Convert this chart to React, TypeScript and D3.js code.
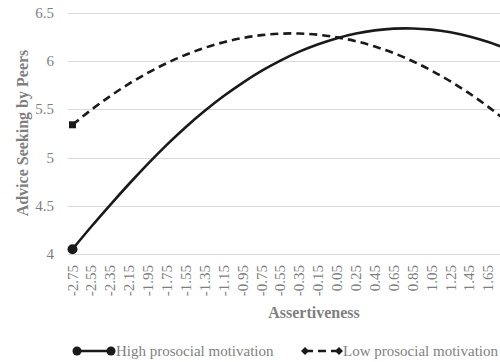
import React from "react";
import * as d3 from "d3";

// Assertiveness levels (category axis)
const categories = [
  "-2.75", "-2.55", "-2.35", "-2.15", "-1.95", "-1.75", "-1.55", "-1.35",
  "-1.15", "-0.95", "-0.75", "-0.55", "-0.35", "-0.15", "0.05", "0.25",
  "0.45", "0.65", "0.85", "1.05", "1.25", "1.45", "1.65", "1.85",
];

// Predicted advice seeking by peers
const highProsocial = [
  4.05, 4.285, 4.51, 4.728, 4.937, 5.134, 5.317, 5.484, 5.637, 5.774, 5.897,
  6.004, 6.097, 6.174, 6.237, 6.285, 6.317, 6.335, 6.337, 6.325, 6.297, 6.255,
  6.197, 6.125,
];
const lowProsocial = [
  5.339, 5.495, 5.637, 5.765, 5.879, 5.979, 6.065, 6.137, 6.195, 6.238, 6.268,
  6.283, 6.285, 6.272, 6.245, 6.205, 6.15, 6.081, 5.998, 5.9, 5.789, 5.664,
  5.525, 5.371,
];

const yTicks = [4, 4.5, 5, 5.5, 6, 6.5];
const yTickLabels = ["4", "4.5", "5", "5.5", "6", "6.5"];

const seriesNames = ["High prosocial motivation", "Low prosocial motivation"];

const W = 500;
const H = 362;
const FONT = "'Liberation Serif', 'Times New Roman', serif";
const TEXT = "#7f7f7f";
const GRID = "#d9d9d9";
const INK = "#1a1a1a";

export default function App() {
  const plotLeft = 68;
  const x = d3
    .scalePoint<string>()
    .domain(categories)
    .range([72.5, 72.5 + (categories.length - 1) * 18.9]);
  const y = d3.scaleLinear().domain([4, 6.5]).range([254, 12.75]);

  const line = d3
    .line<number>()
    .x((_, i) => x(categories[i]) as number)
    .y((d) => y(d))
    .curve(d3.curveNatural);

  const diamond = (cx: number, cy: number, s: number) =>
    `M${cx},${cy - s}L${cx + s},${cy}L${cx},${cy + s}L${cx - s},${cy}Z`;

  const legendY = 351;
  // only categories whose label fits inside the drawing area get a label
  const labelled = categories.filter((c) => (x(c) as number) < W - 4);

  return (
    <svg
      width={W}
      height={H}
      style={{ position: "absolute", left: 0, top: 0, background: "#fff" }}
      fontFamily={FONT}
    >
      <rect width={W} height={H} fill="#fff" />
      {/* horizontal gridlines and y tick labels */}
      {yTicks.map((t, i) => (
        <g key={t}>
          <line
            x1={plotLeft}
            x2={W}
            y1={Math.round(y(t)) + 0.5}
            y2={Math.round(y(t)) + 0.5}
            stroke={GRID}
            strokeWidth={1}
          />
          <text
            x={54}
            y={y(t)}
            textAnchor="end"
            dominantBaseline="central"
            fontSize={15}
            fill={TEXT}
          >
            {yTickLabels[i]}
          </text>
        </g>
      ))}

      {/* category labels */}
      {labelled.map((c) => (
        <text
          key={c}
          transform={`translate(${x(c)},265) rotate(-90)`}
          textAnchor="end"
          dominantBaseline="central"
          fontSize={15}
          fill={TEXT}
        >
          {c}
        </text>
      ))}

      {/* series */}
      <path
        d={line(lowProsocial) || ""}
        fill="none"
        stroke={INK}
        strokeWidth={2.6}
        strokeDasharray="8,5"
      />
      <path
        d={line(highProsocial) || ""}
        fill="none"
        stroke={INK}
        strokeWidth={2.6}
      />
      <circle
        cx={x(categories[0])}
        cy={y(highProsocial[0])}
        r={5}
        fill={INK}
      />
      <rect
        x={(x(categories[0]) as number) - 3.5}
        y={y(lowProsocial[0]) - 3.5}
        width={7}
        height={7}
        fill={INK}
      />

      {/* axis titles */}
      <text
        x={314}
        y={318}
        textAnchor="middle"
        fontSize={16}
        fontWeight="bold"
        fill={TEXT}
      >
        Assertiveness
      </text>
      <text
        transform="translate(22,133) rotate(-90)"
        textAnchor="middle"
        dominantBaseline="central"
        fontSize={16}
        fontWeight="bold"
        fill={TEXT}
      >
        Advice Seeking by Peers
      </text>

      {/* legend */}
      <g>
        <line x1={77} x2={111} y1={legendY} y2={legendY} stroke={INK} strokeWidth={2.6} />
        <circle cx={77} cy={legendY} r={4.5} fill={INK} />
        <circle cx={111} cy={legendY} r={4.5} fill={INK} />
        <text x={116} y={legendY} dominantBaseline="central" fontSize={15} fill={TEXT}>
          {seriesNames[0]}
        </text>
        <line
          x1={305}
          x2={339}
          y1={legendY}
          y2={legendY}
          stroke={INK}
          strokeWidth={2.6}
          strokeDasharray="8,5"
        />
        <path d={diamond(305, legendY, 4)} fill={INK} />
        <path d={diamond(339, legendY, 4)} fill={INK} />
        <text x={343} y={legendY} dominantBaseline="central" fontSize={15} fill={TEXT}>
          {seriesNames[1]}
        </text>
      </g>
    </svg>
  );
}
